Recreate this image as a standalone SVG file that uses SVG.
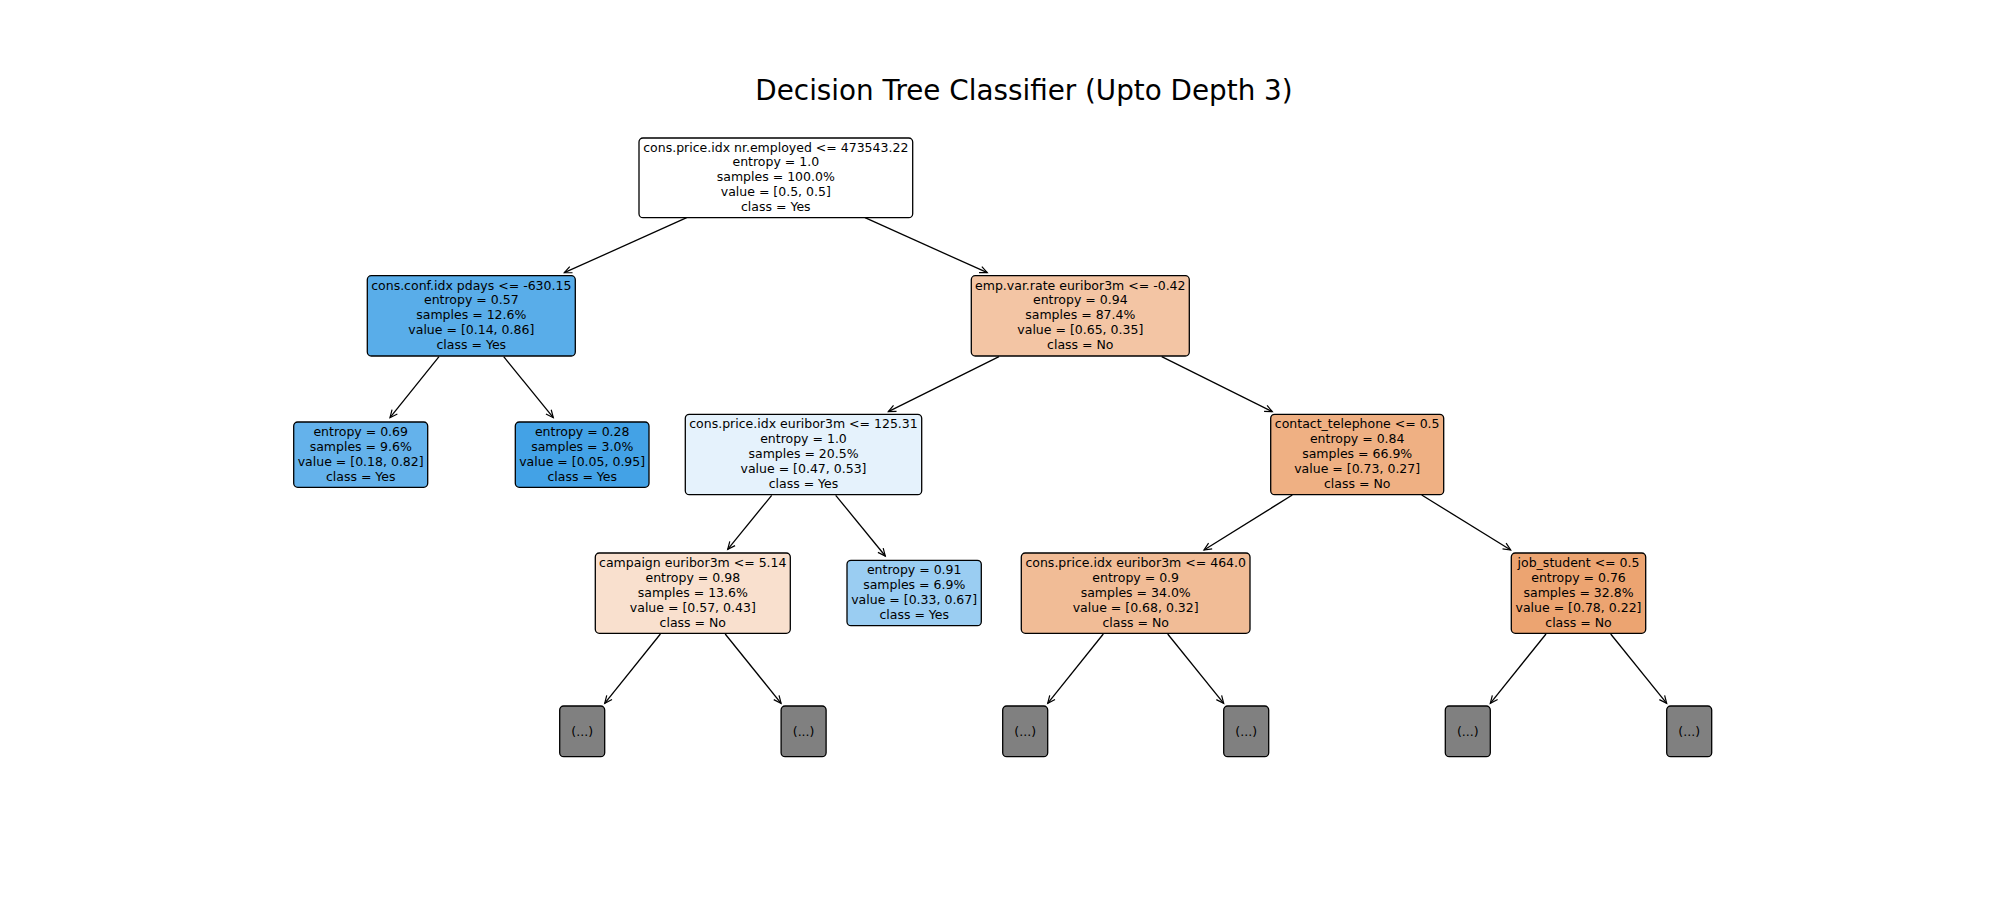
<svg xmlns="http://www.w3.org/2000/svg" width="2000" height="900" viewBox="0 0 2000 900">
<defs>
<style>
.t{font-family:"DejaVu Sans","Liberation Sans",sans-serif;font-size:12.5px;fill:#000;text-anchor:middle}
.title{font-family:"DejaVu Sans","Liberation Sans",sans-serif;font-size:27.8px;fill:#000;text-anchor:middle}
.box{stroke:#000;stroke-width:1.3}
.edge{stroke:#000;stroke-width:1.3;fill:none;marker-end:url(#arr)}
</style>
<marker id="arr" markerWidth="12" markerHeight="10" refX="10" refY="5" orient="auto" markerUnits="userSpaceOnUse" viewBox="0 0 12 10">
<path d="M2.5,1.6 L10,5 L2.5,8.4" fill="none" stroke="#000" stroke-width="1.2"/>
</marker>
</defs>
<rect width="2000" height="900" fill="#fff"/>
<text class="title" x="1024" y="100">Decision Tree Classifier (Upto Depth 3)</text>
<g id="connectors">
<line class="edge" x1="686.7" y1="217.7" x2="564.3" y2="272.7"/>
<line class="edge" x1="865" y1="217.7" x2="987.3" y2="272.7"/>
<line class="edge" x1="439" y1="356.7" x2="390" y2="417.7"/>
<line class="edge" x1="503.7" y1="356.7" x2="553.3" y2="417.7"/>
<line class="edge" x1="999" y1="356.7" x2="888.3" y2="411.7"/>
<line class="edge" x1="1161.7" y1="356.7" x2="1272.3" y2="411.7"/>
<line class="edge" x1="771.7" y1="495.3" x2="727.7" y2="549.3"/>
<line class="edge" x1="835.7" y1="495.3" x2="885.3" y2="556"/>
<line class="edge" x1="1292.3" y1="495" x2="1204" y2="550"/>
<line class="edge" x1="1421.7" y1="495" x2="1510.7" y2="550"/>
<line class="edge" x1="660.4" y1="634" x2="604.7" y2="703.3"/>
<line class="edge" x1="725.2" y1="634" x2="781.1" y2="703.3"/>
<line class="edge" x1="1103.3" y1="634" x2="1047.7" y2="703.3"/>
<line class="edge" x1="1167.7" y1="634" x2="1223.7" y2="703.3"/>
<line class="edge" x1="1546" y1="634" x2="1490.3" y2="703.3"/>
<line class="edge" x1="1610.7" y1="634" x2="1666.7" y2="703.3"/>
</g>
<g id="n0">
<rect class="box" x="639" y="138" width="273.7" height="79.7" rx="4" fill="#ffffff"/>
<text class="t"><tspan x="775.8" y="151.5">cons.price.idx nr.employed &lt;= 473543.22</tspan><tspan x="775.8" y="166.4">entropy = 1.0</tspan><tspan x="775.8" y="181.3">samples = 100.0%</tspan><tspan x="775.8" y="196.2">value = [0.5, 0.5]</tspan><tspan x="775.8" y="211.1">class = Yes</tspan></text>
</g>
<g id="n1">
<rect class="box" x="367.3" y="275.7" width="208" height="80.3" rx="4" fill="#59ade9"/>
<text class="t"><tspan x="471.3" y="289.5">cons.conf.idx pdays &lt;= -630.15</tspan><tspan x="471.3" y="304.4">entropy = 0.57</tspan><tspan x="471.3" y="319.3">samples = 12.6%</tspan><tspan x="471.3" y="334.2">value = [0.14, 0.86]</tspan><tspan x="471.3" y="349.1">class = Yes</tspan></text>
</g>
<g id="n2">
<rect class="box" x="293.7" y="422" width="134" height="65.3" rx="4" fill="#64b2eb"/>
<text class="t"><tspan x="360.7" y="435.9">entropy = 0.69</tspan><tspan x="360.7" y="450.8">samples = 9.6%</tspan><tspan x="360.7" y="465.7">value = [0.18, 0.82]</tspan><tspan x="360.7" y="480.6">class = Yes</tspan></text>
</g>
<g id="n3">
<rect class="box" x="515.3" y="422" width="133.7" height="65.3" rx="4" fill="#43a2e6"/>
<text class="t"><tspan x="582.2" y="435.9">entropy = 0.28</tspan><tspan x="582.2" y="450.8">samples = 3.0%</tspan><tspan x="582.2" y="465.7">value = [0.05, 0.95]</tspan><tspan x="582.2" y="480.6">class = Yes</tspan></text>
</g>
<g id="n4">
<rect class="box" x="971.3" y="275.7" width="218" height="80.3" rx="4" fill="#f3c5a4"/>
<text class="t"><tspan x="1080.3" y="289.5">emp.var.rate euribor3m &lt;= -0.42</tspan><tspan x="1080.3" y="304.4">entropy = 0.94</tspan><tspan x="1080.3" y="319.3">samples = 87.4%</tspan><tspan x="1080.3" y="334.2">value = [0.65, 0.35]</tspan><tspan x="1080.3" y="349.1">class = No</tspan></text>
</g>
<g id="n5">
<rect class="box" x="685.3" y="414.3" width="236.4" height="80.4" rx="4" fill="#e5f2fc"/>
<text class="t"><tspan x="803.5" y="428.2">cons.price.idx euribor3m &lt;= 125.31</tspan><tspan x="803.5" y="443.1">entropy = 1.0</tspan><tspan x="803.5" y="458">samples = 20.5%</tspan><tspan x="803.5" y="472.9">value = [0.47, 0.53]</tspan><tspan x="803.5" y="487.8">class = Yes</tspan></text>
</g>
<g id="n6">
<rect class="box" x="1270.7" y="414.3" width="173" height="80.4" rx="4" fill="#efb083"/>
<text class="t"><tspan x="1357.2" y="428.2">contact_telephone &lt;= 0.5</tspan><tspan x="1357.2" y="443.1">entropy = 0.84</tspan><tspan x="1357.2" y="458">samples = 66.9%</tspan><tspan x="1357.2" y="472.9">value = [0.73, 0.27]</tspan><tspan x="1357.2" y="487.8">class = No</tspan></text>
</g>
<g id="n7">
<rect class="box" x="595.3" y="553" width="195" height="80.3" rx="4" fill="#f9e0ce"/>
<text class="t"><tspan x="692.8" y="566.9">campaign euribor3m &lt;= 5.14</tspan><tspan x="692.8" y="581.8">entropy = 0.98</tspan><tspan x="692.8" y="596.7">samples = 13.6%</tspan><tspan x="692.8" y="611.6">value = [0.57, 0.43]</tspan><tspan x="692.8" y="626.5">class = No</tspan></text>
</g>
<g id="n8">
<rect class="box" x="847" y="560.3" width="134.3" height="65.4" rx="4" fill="#9acdf2"/>
<text class="t"><tspan x="914.2" y="574.2">entropy = 0.91</tspan><tspan x="914.2" y="589.1">samples = 6.9%</tspan><tspan x="914.2" y="604">value = [0.33, 0.67]</tspan><tspan x="914.2" y="618.9">class = Yes</tspan></text>
</g>
<g id="n9">
<rect class="box" x="1021.3" y="553" width="228.7" height="80.3" rx="4" fill="#f1bc96"/>
<text class="t"><tspan x="1135.7" y="566.9">cons.price.idx euribor3m &lt;= 464.0</tspan><tspan x="1135.7" y="581.8">entropy = 0.9</tspan><tspan x="1135.7" y="596.7">samples = 34.0%</tspan><tspan x="1135.7" y="611.6">value = [0.68, 0.32]</tspan><tspan x="1135.7" y="626.5">class = No</tspan></text>
</g>
<g id="n10">
<rect class="box" x="1511.3" y="553" width="134.4" height="80.3" rx="4" fill="#eca471"/>
<text class="t"><tspan x="1578.5" y="566.9">job_student &lt;= 0.5</tspan><tspan x="1578.5" y="581.8">entropy = 0.76</tspan><tspan x="1578.5" y="596.7">samples = 32.8%</tspan><tspan x="1578.5" y="611.6">value = [0.78, 0.22]</tspan><tspan x="1578.5" y="626.5">class = No</tspan></text>
</g>
<g id="n11">
<rect class="box" x="559.7" y="706" width="45" height="50.7" rx="4" fill="#808080"/>
<text class="t" x="582.2" y="735.5">(...)</text>
</g>
<g id="n12">
<rect class="box" x="781.1" y="706" width="45" height="50.7" rx="4" fill="#808080"/>
<text class="t" x="803.6" y="735.5">(...)</text>
</g>
<g id="n13">
<rect class="box" x="1002.7" y="706" width="45" height="50.7" rx="4" fill="#808080"/>
<text class="t" x="1025.2" y="735.5">(...)</text>
</g>
<g id="n14">
<rect class="box" x="1223.7" y="706" width="45" height="50.7" rx="4" fill="#808080"/>
<text class="t" x="1246.2" y="735.5">(...)</text>
</g>
<g id="n15">
<rect class="box" x="1445.3" y="706" width="45" height="50.7" rx="4" fill="#808080"/>
<text class="t" x="1467.8" y="735.5">(...)</text>
</g>
<g id="n16">
<rect class="box" x="1666.7" y="706" width="45" height="50.7" rx="4" fill="#808080"/>
<text class="t" x="1689.2" y="735.5">(...)</text>
</g>
</svg>
